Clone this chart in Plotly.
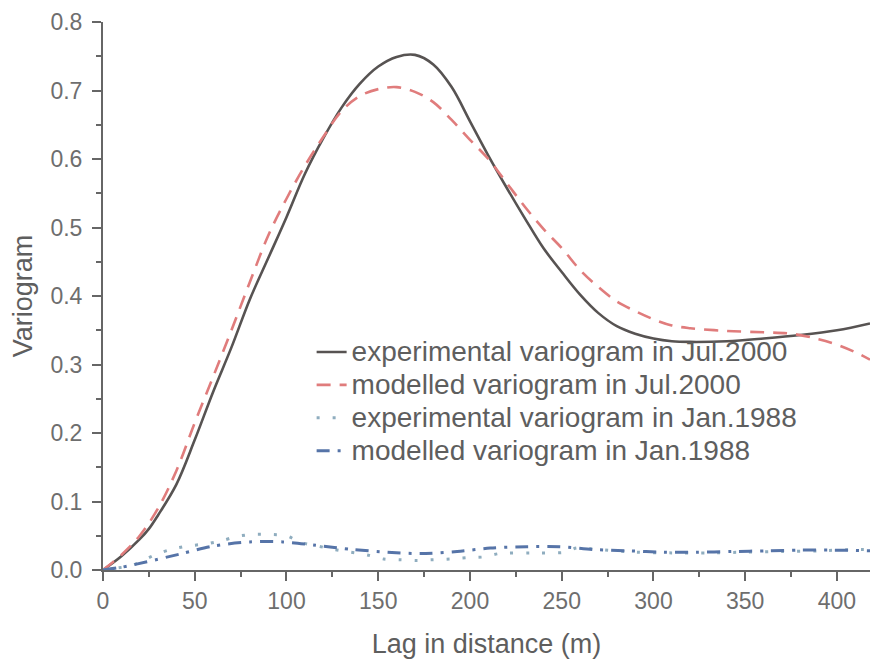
import plotly.graph_objects as go

# ---- data ----
exp_jul2000_x = [0, 10, 20, 25, 30, 40, 50, 60, 70, 80, 90, 100, 110, 120, 130, 140, 150, 160, 170, 180, 190,
                 200, 210, 220, 230, 240, 250, 260, 270, 280, 290, 300, 310, 320, 340, 360, 380, 400, 418]
exp_jul2000_y = [0, 0.02, 0.045, 0.06, 0.08, 0.125, 0.19, 0.26, 0.325, 0.395, 0.455, 0.515, 0.578, 0.63, 0.675,
                 0.71, 0.735, 0.749, 0.752, 0.738, 0.705, 0.655, 0.605, 0.558, 0.513, 0.47, 0.435, 0.402, 0.375,
                 0.356, 0.345, 0.338, 0.334, 0.333, 0.334, 0.338, 0.343, 0.35, 0.36]

mod_jul2000_x = [0, 10, 20, 30, 40, 50, 60, 70, 80, 90, 100, 110, 120, 130, 140, 150, 160, 170, 180, 190, 200,
                 210, 220, 230, 240, 250, 260, 270, 280, 290, 300, 310, 320, 340, 360, 375, 390, 400, 410, 418]
mod_jul2000_y = [0, 0.022, 0.05, 0.09, 0.145, 0.215, 0.282, 0.35, 0.42, 0.488, 0.542, 0.59, 0.632, 0.67, 0.692,
                 0.702, 0.705, 0.698, 0.683, 0.657, 0.628, 0.6, 0.565, 0.53, 0.498, 0.47, 0.438, 0.413, 0.392,
                 0.378, 0.366, 0.357, 0.353, 0.349, 0.347, 0.345, 0.337, 0.329, 0.318, 0.307]

exp_jan1988_x = [0, 8, 16, 29, 37, 46, 56, 65, 73, 82, 91, 100, 108, 117, 126, 135, 144, 153, 162, 171, 180, 189,
                 198, 207, 216, 233, 252, 258, 270, 290, 310, 330, 350, 370, 390, 410, 418]
exp_jan1988_y = [0, 0.003, 0.007, 0.023, 0.03, 0.035, 0.038, 0.043, 0.049, 0.052, 0.052, 0.05, 0.04, 0.035, 0.03,
                 0.026, 0.022, 0.016, 0.015, 0.014, 0.015, 0.016, 0.018, 0.019, 0.024, 0.025, 0.026, 0.032, 0.03,
                 0.026, 0.025, 0.025, 0.026, 0.027, 0.028, 0.03, 0.03]

mod_jan1988_x = [0, 10, 24, 43, 60, 80, 98, 116, 136, 155, 173, 193, 211, 231, 249, 267, 287, 305, 323, 343, 362,
                 380, 398, 418]
mod_jan1988_y = [0, 0.004, 0.012, 0.024, 0.035, 0.041, 0.041, 0.036, 0.03, 0.026, 0.024, 0.027, 0.032, 0.034,
                 0.034, 0.03, 0.028, 0.026, 0.026, 0.027, 0.028, 0.029, 0.029, 0.028]

series_names = ["experimental variogram in Jul.2000", "modelled variogram in Jul.2000",
                "experimental variogram in Jan.1988", "modelled variogram in Jan.1988"]

x_tick_vals = [0, 50, 100, 150, 200, 250, 300, 350, 400]
y_tick_vals = [0.0, 0.1, 0.2, 0.3, 0.4, 0.5, 0.6, 0.7, 0.8]

# ---- figure ----
FONT = "Liberation Sans, Arial, sans-serif"
LEG_SPAN = '<span style="font-size:28px">{}</span>'

fig = go.Figure()
fig.add_trace(go.Scatter(x=exp_jul2000_x, y=exp_jul2000_y, mode="lines", name=LEG_SPAN.format(series_names[0]),
                         line=dict(color="#575352", width=2.6, shape="spline", smoothing=1)))
fig.add_trace(go.Scatter(x=mod_jul2000_x, y=mod_jul2000_y, mode="lines", name=LEG_SPAN.format(series_names[1]),
                         line=dict(color="#e07c7c", width=2.6, dash="14px,9px", shape="spline", smoothing=1)))
fig.add_trace(go.Scatter(x=exp_jan1988_x, y=exp_jan1988_y, mode="lines", name=LEG_SPAN.format(series_names[2]),
                         line=dict(color="#8fadbf", width=3, dash="3px,13px", shape="spline", smoothing=0.8)))
fig.add_trace(go.Scatter(x=mod_jan1988_x, y=mod_jan1988_y, mode="lines", name=LEG_SPAN.format(series_names[3]),
                         line=dict(color="#5674a8", width=3, dash="13px,8px,3px,8px", shape="spline", smoothing=0.8)))

axis_common = dict(
    showline=True, linecolor="#666666", linewidth=2,
    ticks="outside", tickcolor="#666666", tickwidth=2, ticklen=9,
    showgrid=False, zeroline=False,
    tickfont=dict(family=FONT, size=23, color="#6e6e6e"),
)

fig.update_xaxes(
    range=[0, 418], tickmode="array", tickvals=x_tick_vals,
    ticktext=[str(v) for v in x_tick_vals],
    minor=dict(ticks="outside", dtick=25, tick0=0, ticklen=5, tickwidth=2, tickcolor="#666666", showgrid=False),
    title=dict(text="Lag in distance (m)", font=dict(family=FONT, size=27, color="#5e5e5e"), standoff=22),
    ticklabelstandoff=0,
    **axis_common,
)
fig.update_yaxes(
    range=[0, 0.8], tickmode="array", tickvals=y_tick_vals,
    ticktext=[f"{v:.1f}" for v in y_tick_vals],
    minor=dict(ticks="outside", dtick=0.05, tick0=0, ticklen=5, tickwidth=2, tickcolor="#666666", showgrid=False),
    title=dict(text="Variogram", font=dict(family=FONT, size=27, color="#5e5e5e"), standoff=10),
    ticklabelstandoff=5,
    **axis_common,
)

fig.update_layout(
    width=870, height=661,
    margin=dict(l=103, r=0, t=22, b=91),
    paper_bgcolor="white", plot_bgcolor="white",
    font=dict(family=FONT, color="#5e5e5e"),
    showlegend=True,
    legend=dict(x=0.272, y=0.437, xanchor="left", yanchor="top",
                bgcolor="rgba(0,0,0,0)", borderwidth=0,
                font=dict(family=FONT, size=23, color="#5e5e5e"),
                tracegroupgap=0),
)

fig.write_html("out.html")
